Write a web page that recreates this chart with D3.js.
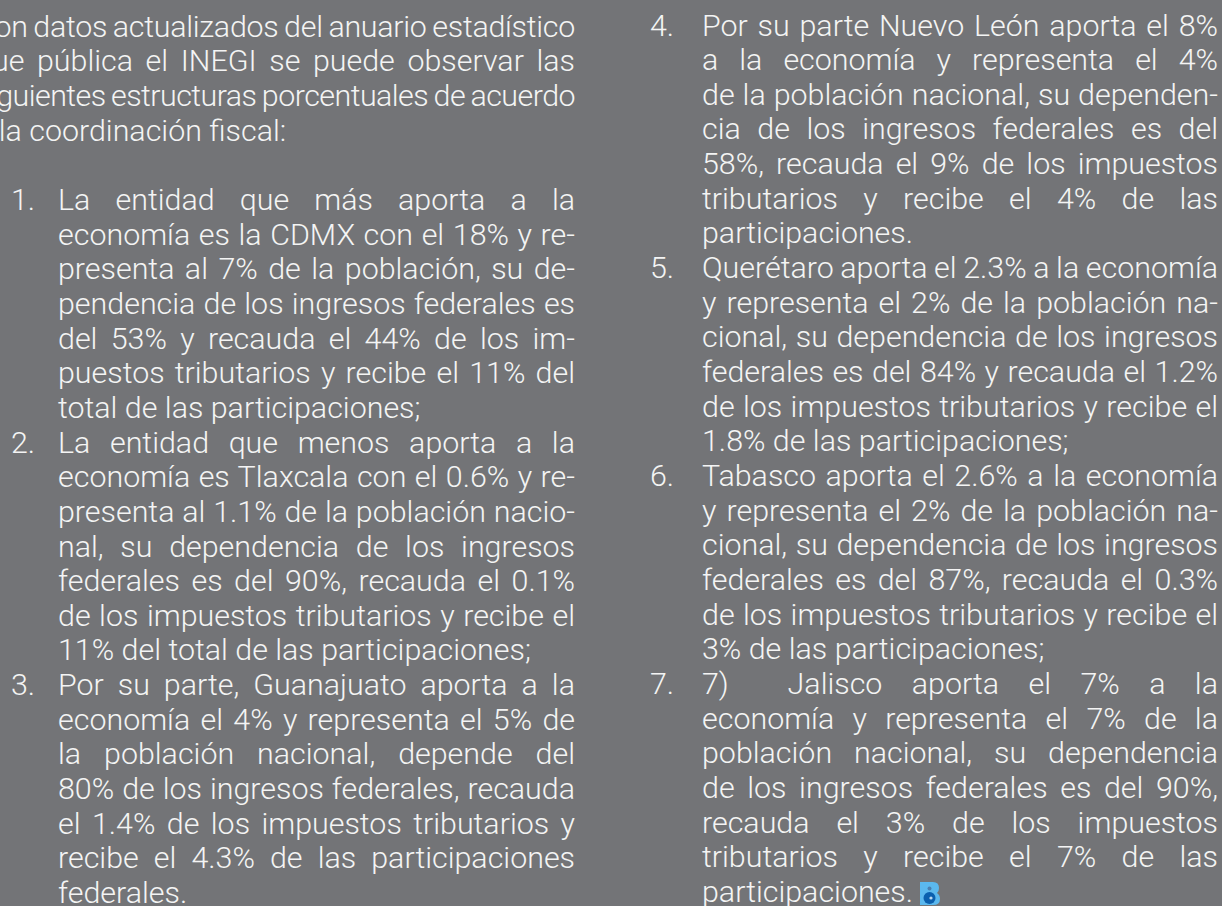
<!DOCTYPE html>
<html>
<head>
<meta charset="utf-8">
<script src="https://cdnjs.cloudflare.com/ajax/libs/d3/7.8.5/d3.min.js"></script>
<style>
html, body { margin: 0; padding: 0; background: #737477; overflow: hidden; }
text { font-family: Roboto, sans-serif; font-weight: 300; fill: #f4f4f4; }
</style>
</head>
<body>
<svg></svg>
<script>
const width = 1222;
const height = 906;
const fontSize = 30.4;

// second item = 1 means the line is justified to the column edge
const introLines = [
  ["Con datos actualizados del anuario estadístico", 1],
  ["que pública el INEGI se puede observar las", 1],
  ["siguientes estructuras porcentuales de acuerdo", 1],
  ["a la coordinación fiscal:", 0]
];

const leftLines = [
  ["La entidad que más aporta a la", 1, "1."],
  ["economía es la CDMX con el 18% y re-", 1],
  ["presenta al 7% de la población, su de-", 1],
  ["pendencia de los ingresos federales es", 1],
  ["del 53% y recauda el 44% de los im-", 1],
  ["puestos tributarios y recibe el 11% del", 1],
  ["total de las participaciones;", 0],
  ["La entidad que menos aporta a la", 1, "2."],
  ["economía es Tlaxcala con el 0.6% y re-", 1],
  ["presenta al 1.1% de la población nacio-", 1],
  ["nal, su dependencia de los ingresos", 1],
  ["federales es del 90%, recauda el 0.1%", 1],
  ["de los impuestos tributarios y recibe el", 1],
  ["11% del total de las participaciones;", 0],
  ["Por su parte, Guanajuato aporta a la", 1, "3."],
  ["economía el 4% y representa el 5% de", 1],
  ["la población nacional, depende del", 1],
  ["80% de los ingresos federales, recauda", 1],
  ["el 1.4% de los impuestos tributarios y", 1],
  ["recibe el 4.3% de las participaciones", 1],
  ["federales.", 0]
];

const rightLines = [
  ["Por su parte Nuevo León aporta el 8%", 1, "4."],
  ["a la economía y representa el 4%", 1],
  ["de la población nacional, su dependen-", 1],
  ["cia de los ingresos federales es del", 1],
  ["58%, recauda el 9% de los impuestos", 1],
  ["tributarios y recibe el 4% de las", 1],
  ["participaciones.", 0],
  ["Querétaro aporta el 2.3% a la economía", 1, "5."],
  ["y representa el 2% de la población na-", 1],
  ["cional, su dependencia de los ingresos", 1],
  ["federales es del 84% y recauda el 1.2%", 1],
  ["de los impuestos tributarios y recibe el", 1],
  ["1.8% de las participaciones;", 0],
  ["Tabasco aporta el 2.6% a la economía", 1, "6."],
  ["y representa el 2% de la población na-", 1],
  ["cional, su dependencia de los ingresos", 1],
  ["federales es del 87%, recauda el 0.3%", 1],
  ["de los impuestos tributarios y recibe el", 1],
  ["3% de las participaciones;", 0],
  ["7)  Jalisco aporta el 7% a la", 1, "7."],
  ["economía y representa el 7% de la", 1],
  ["población nacional, su dependencia", 1],
  ["de los ingresos federales es del 90%,", 1],
  ["recauda el 3% de los impuestos", 1],
  ["tributarios y recibe el 7% de las", 1],
  ["participaciones.", 0]
];

const svg = d3.select("svg")
  .attr("width", width)
  .attr("height", height)
  .style("display", "block");

svg.append("rect").attr("width", width).attr("height", height).attr("fill", "#737477");

// baseline per row, same pitch in both columns
const yIntro = d3.scaleLinear().domain([0, 3]).range([36.8, 140.7]);
const yLeft = d3.scaleLinear().domain([0, 20]).range([210, 903]);
const yRight = d3.scaleLinear().domain([0, 25]).range([35.5, 902]);

function drawColumn(lines, y, x0, x1, numX) {
  const g = svg.append("g");
  const rows = g.selectAll("text.line")
    .data(lines).enter().append("text")
    .attr("class", "line")
    .attr("xml:space", "preserve")
    .style("white-space", "pre")
    .attr("x", x0)
    .attr("y", (d, i) => y(i))
    .attr("font-size", fontSize)
    .text(d => d[0]);

  // justify: push the leftover width into the spaces,
  // and squeeze the letters a bit when the line is too long for that
  rows.each(function (d) {
    if (!d[1]) return;
    const spaces = d[0].split(" ").length - 1;
    const left = x1 - x0 - this.getComputedTextLength();
    const extra = left / spaces;
    if (extra >= -1.5) {
      d3.select(this).attr("word-spacing", extra);
    } else {
      d3.select(this)
        .attr("word-spacing", -1.5)
        .attr("letter-spacing", (left + 1.5 * spaces) / d[0].length);
    }
  });

  if (numX != null) {
    g.selectAll("text.num")
      .data(lines.map((d, i) => [d[2], i]).filter(d => d[0]))
      .enter().append("text")
      .attr("class", "num")
      .attr("x", numX)
      .attr("y", d => y(d[1]))
      .attr("font-size", fontSize)
      .text(d => d[0]);
  }
}

drawColumn(introLines, yIntro, -25, 575);
drawColumn(leftLines, yLeft, 58, 575, 11);
drawColumn(rightLines, yRight, 702, 1218, 650);

// small end mark after the last word
const mark = svg.append("g").attr("transform", "translate(920,882)");
mark.append("path")
  .attr("d", "M0 0H13Q19 0 19 6Q19 9.5 17 11Q20 13 20 17Q20 23 13 23H0Z")
  .attr("fill", "#5bb8ee");
mark.append("circle").attr("cx", 9.5).attr("cy", 16).attr("r", 6).attr("fill", "#0a5fae");
mark.append("circle").attr("cx", 9.5).attr("cy", 6.5).attr("r", 2).attr("fill", "#4a7fb0");
mark.append("circle").attr("cx", 11).attr("cy", 16).attr("r", 1.6).attr("fill", "#bcd8ee");
</script>
</body>
</html>
